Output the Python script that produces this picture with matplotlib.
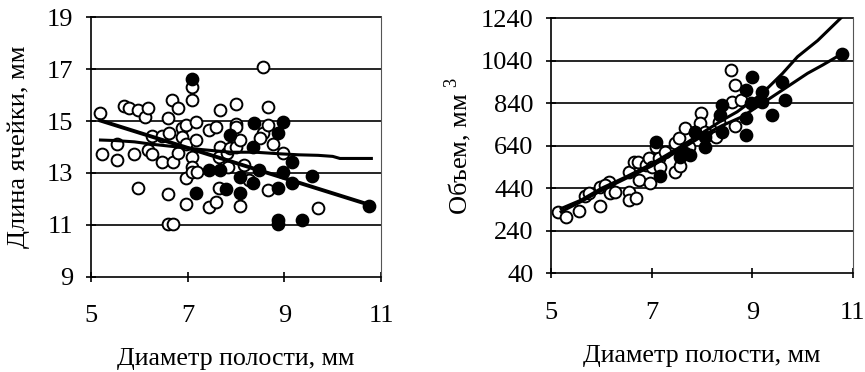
import matplotlib
matplotlib.use("Agg")
import matplotlib.pyplot as plt
import numpy as np

plt.rcParams['font.family'] = ['Liberation Serif', 'DejaVu Serif']
plt.rcParams['mathtext.fontset'] = 'custom'
plt.rcParams['mathtext.rm'] = 'Liberation Serif'

# ---------------- Left panel data: cell length vs cavity diameter ----------------
left_open_x = [5.19, 5.23, 5.55, 5.55, 5.69, 5.78, 5.90, 5.97, 5.97, 6.11, 6.19, 6.18, 6.26, 6.27,
               6.47, 6.47, 6.60, 6.62, 6.60, 6.59, 6.69, 6.68, 6.69, 6.81, 6.81, 6.88, 6.88, 6.97,
               6.97, 6.97, 6.97, 7.09, 7.09, 7.09, 7.09, 7.09, 7.18, 7.18, 7.19, 7.45, 7.45, 7.59,
               7.59, 7.67, 7.67, 7.64, 7.66, 7.81, 7.84, 7.88, 8.00, 8.00, 8.00, 8.00, 8.09, 8.09,
               8.17, 8.28, 8.57, 8.57, 8.50, 8.66, 8.66, 8.66, 8.77, 8.98, 9.70]
left_open_y = [15.30, 13.73, 14.12, 13.50, 15.58, 15.49, 13.73, 15.43, 12.41, 15.17, 15.49, 13.88, 14.42, 13.72,
               14.42, 13.43, 15.11, 14.53, 12.19, 11.03, 11.03, 15.81, 13.43, 15.49, 13.76, 14.72, 14.40, 14.85,
               14.12, 12.79, 11.80, 16.30, 15.81, 13.63, 13.24, 13.05, 14.98, 14.27, 13.05, 14.66, 11.67, 14.79,
               11.89, 15.43, 14.01, 13.63, 12.41, 13.76, 13.24, 13.95, 15.66, 14.89, 14.76, 14.01, 14.27, 11.72,
               13.31, 12.73, 17.07, 14.53, 14.33, 15.53, 14.85, 12.34, 14.12, 13.76, 11.64]
left_fill_x = [7.09, 7.18, 7.45, 7.67, 7.80, 7.88, 8.08, 8.09, 8.37, 8.36, 8.36, 8.48, 8.86, 8.88,
               8.98, 8.98, 9.15, 9.15, 9.57, 8.88, 8.88, 9.36, 10.76]
left_fill_y = [16.62, 12.21, 13.11, 13.11, 12.37, 14.46, 12.21, 12.86, 14.91, 13.99, 12.60, 13.11, 14.53, 12.41,
               14.98, 13.05, 13.43, 12.60, 12.90, 11.19, 11.03, 11.19, 11.72]
left_lin_x = [5.2, 10.8]
left_lin_y = [15.02, 11.75]
left_trend_x = [5.2, 5.5, 5.9, 6.3, 6.8, 7.3, 7.9, 8.4, 8.9, 9.3, 9.7, 10.0, 10.15, 10.8]
left_trend_y = [14.27, 14.25, 14.20, 14.10, 14.00, 13.90, 13.80, 13.80, 13.74, 13.70, 13.68, 13.64, 13.56, 13.56]

# ---------------- Right panel data: volume vs cavity diameter ----------------
right_open_x = [5.14, 5.29, 5.55, 5.68, 5.76, 5.97, 5.98, 6.15, 6.08, 6.18, 6.28, 6.55, 6.56, 6.56,
                6.64, 6.69, 6.73, 6.74, 6.88, 6.94, 6.96, 7.01, 7.08, 7.14, 7.17, 7.27, 7.47, 7.47,
                7.57, 7.54, 7.67, 7.74, 7.87, 7.99, 7.96, 8.07, 8.27, 8.34, 8.57, 8.59, 8.66, 8.66, 8.77]
right_open_y = [330, 304, 335, 404, 416, 445, 357, 471, 456, 420, 424, 518, 424, 385,
                565, 393, 562, 479, 550, 581, 464, 542, 636, 581, 542, 613, 652, 518,
                545, 675, 722, 636, 707, 793, 746, 707, 683, 754, 997, 848, 926, 733, 856]
right_fill_x = [7.08, 7.17, 7.57, 7.67, 7.77, 7.87, 8.06, 8.06, 8.36, 8.40, 8.40, 8.88, 8.88, 8.88,
                8.99, 8.97, 9.19, 9.19, 9.39, 9.59, 9.65, 10.78]
right_fill_y = [660, 498, 589, 605, 597, 707, 636, 683, 785, 832, 707, 903, 769, 691,
                962, 840, 895, 848, 785, 942, 856, 1072]
right_up_x = [5.2, 5.6, 6.0, 6.5, 7.0, 7.5, 8.0, 8.4, 8.7, 9.2, 9.6, 9.9, 10.3, 10.8]
right_up_y = [345, 385, 440, 495, 555, 625, 700, 760, 800, 887, 980, 1059, 1135, 1250]
right_lo_x = [5.2, 5.6, 6.0, 6.5, 7.0, 7.5, 8.0, 8.4, 8.8, 9.4, 10.1, 10.4, 10.8]
right_lo_y = [330, 378, 430, 488, 545, 612, 685, 735, 777, 871, 981, 1020, 1075]

left_xticks = [5, 7, 9, 11]
left_yticks = [9, 11, 13, 15, 17, 19]
right_xticks = [5, 7, 9, 11]
right_yticks = [40, 240, 440, 640, 840, 1040, 1240]

fig = plt.figure(figsize=(8.65, 3.72), dpi=100)
ax1 = fig.add_axes([0.105, 0.256, 0.3355, 0.6975])
ax2 = fig.add_axes([0.637, 0.265, 0.349, 0.686])

def style(ax, xt, yt, xlim, ylim, ylabel, ylpad):
    ax.set_xlim(*xlim)
    ax.set_ylim(*ylim)
    ax.set_xticks(xt)
    ax.set_yticks(yt)
    for y in yt[1:]:
        ax.axhline(y, color='black', lw=1.2, zorder=1, clip_on=False)
    ax.spines['top'].set_visible(False)
    ax.spines['right'].set_color('#555555')
    ax.spines['right'].set_linewidth(0.8)
    ax.spines['left'].set_linewidth(1.2)
    ax.spines['bottom'].set_linewidth(1.2)
    ax.tick_params(axis='both', direction='inout', length=7, width=1.2, labelsize=19)
    ax.tick_params(axis='x', pad=17)
    ax.tick_params(axis='y', pad=9)
    ax.set_xlabel('Диаметр полости, мм', fontsize=18.7, labelpad=15)
    ax.set_ylabel(ylabel, fontsize=19, labelpad=ylpad)

style(ax1, left_xticks, left_yticks, (5, 11), (9, 19), 'Длина ячейки, мм', 12)
style(ax2, right_xticks, right_yticks, (5, 11), (40, 1240), 'Объем, мм $^{3}$', 5)

ms = 72
for ax, ox, oy, fx, fy in [(ax1, left_open_x, left_open_y, left_fill_x, left_fill_y),
                           (ax2, right_open_x, right_open_y, right_fill_x, right_fill_y)]:
    ax.scatter(ox, oy, s=ms, facecolors='white', edgecolors='black', linewidths=1.4, zorder=3)
    ax.scatter(fx, fy, s=ms, facecolors='black', edgecolors='black', linewidths=1.4, zorder=3)

ax1.plot(left_lin_x, left_lin_y, color='black', lw=2.8, zorder=4)
ax1.plot(left_trend_x, left_trend_y, color='black', lw=2.2, zorder=4)
ax2.plot(right_up_x, right_up_y, color='black', lw=2.2, zorder=4)
ax2.plot(right_lo_x, right_lo_y, color='black', lw=2.2, zorder=4)

fig.savefig('out.png', dpi=100)
